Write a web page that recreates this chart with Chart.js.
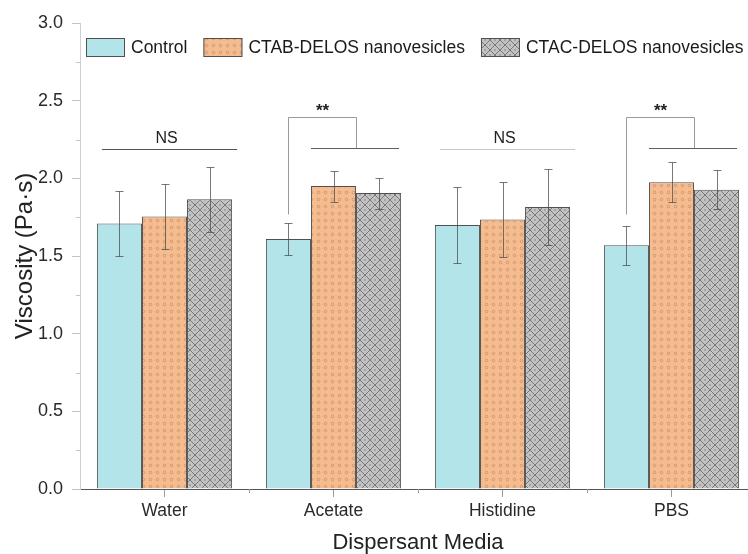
<!DOCTYPE html>
<html>
<head>
<meta charset="utf-8">
<script src="https://cdn.jsdelivr.net/npm/chart.js@4.4.1/dist/chart.umd.min.js"></script>
<style>
  html, body { margin: 0; padding: 0; background: #fff; overflow: hidden; width: 748px; height: 554px; }
  #wrap { width: 760px; height: 554px; }
</style>
</head>
<body>
<div id="wrap"><canvas id="c" width="760" height="554"></canvas></div>
<script>
// Viscosity of the formulations in each dispersant medium (mean and SD, Pa·s)
const categories = ['Water', 'Acetate', 'Histidine', 'PBS'];
const seriesNames = ['Control', 'CTAB-DELOS nanovesicles', 'CTAC-DELOS nanovesicles'];
const controlMean = [1.71, 1.61, 1.70, 1.57];
const controlSD   = [0.21, 0.105, 0.245, 0.125];
const ctabMean    = [1.755, 1.95, 1.735, 1.975];
const ctabSD      = [0.21, 0.10, 0.243, 0.127];
const ctacMean    = [1.865, 1.905, 1.815, 1.927];
const ctacSD      = [0.21, 0.10, 0.245, 0.126];
const yTicks      = [0, 0.5, 1.0, 1.5, 2.0, 2.5, 3.0];
const significance = ['NS', '**', 'NS', '**'];

const FONT = '"Liberation Sans", Arial, sans-serif';

// Fill patterns
function dotPattern() {
  const t = document.createElement('canvas');
  t.width = 7; t.height = 7;
  const g = t.getContext('2d');
  g.fillStyle = '#F5BC90';
  g.fillRect(0, 0, 7, 7);
  g.strokeStyle = 'rgba(190,130,90,0.75)';
  g.lineWidth = 0.8;
  g.beginPath(); g.arc(3.5, 3.5, 1.3, 0, Math.PI * 2); g.stroke();
  return g.createPattern(t, 'repeat');
}
function crossPattern() {
  const s = 10;
  const t = document.createElement('canvas');
  t.width = s; t.height = s;
  const g = t.getContext('2d');
  g.fillStyle = '#C2C2C2';
  g.fillRect(0, 0, s, s);
  g.strokeStyle = 'rgba(85,85,85,0.85)';
  g.lineWidth = 0.8;
  g.beginPath();
  g.moveTo(0, 0); g.lineTo(s, s);
  g.moveTo(s, 0); g.lineTo(0, s);
  g.stroke();
  g.fillStyle = 'rgba(110,110,110,0.8)';
  [[s / 2, 0], [s / 2, s], [0, s / 2], [s, s / 2]].forEach(([x, y]) => {
    g.beginPath(); g.arc(x, y, 0.8, 0, Math.PI * 2); g.fill();
  });
  return g.createPattern(t, 'repeat');
}

const fills = ['#B3E4E9', dotPattern(), crossPattern()];

const datasets = [
  { label: seriesNames[0], data: controlMean, sd: controlSD },
  { label: seriesNames[1], data: ctabMean, sd: ctabSD },
  { label: seriesNames[2], data: ctacMean, sd: ctacSD }
].map((d, i) => Object.assign(d, {
  backgroundColor: fills[i],
  borderColor: '#505050',
  borderWidth: 1,
  borderSkipped: 'bottom',
  barPercentage: 1.0,
  categoryPercentage: 0.8
}));

// Error bars (mean ± SD)
const errorBars = {
  id: 'errorBars',
  afterDatasetsDraw(chart) {
    const { ctx } = chart;
    const y = chart.scales.y;
    ctx.save();
    ctx.strokeStyle = 'rgba(75,75,75,0.75)';
    ctx.lineWidth = 1;
    chart.data.datasets.forEach((ds, i) => {
      chart.getDatasetMeta(i).data.forEach((bar, j) => {
        const x = Math.round(bar.x) + 0.5;
        const y1 = Math.round(y.getPixelForValue(ds.data[j] + ds.sd[j])) + 0.5;
        const y2 = Math.round(y.getPixelForValue(ds.data[j] - ds.sd[j])) + 0.5;
        ctx.beginPath();
        ctx.moveTo(x, y1); ctx.lineTo(x, y2);
        ctx.moveTo(x - 4, y1); ctx.lineTo(x + 4, y1);
        ctx.moveTo(x - 4, y2); ctx.lineTo(x + 4, y2);
        ctx.stroke();
      });
    });
    ctx.restore();
  }
};

// Significance markers above each group
const brackets = {
  id: 'brackets',
  afterDatasetsDraw(chart) {
    const { ctx } = chart;
    const y = chart.scales.y;
    const m0 = chart.getDatasetMeta(0).data;
    const m1 = chart.getDatasetMeta(1).data;
    const m2 = chart.getDatasetMeta(2).data;
    const px = v => Math.round(y.getPixelForValue(v)) + 0.5;
    ctx.save();
    ctx.lineWidth = 1;
    ctx.textAlign = 'center';
    ctx.textBaseline = 'middle';
    ctx.fillStyle = '#222';
    significance.forEach((s, j) => {
      const left = m0[j].x - m0[j].width / 2;
      const right = m2[j].x + m2[j].width / 2;
      if (s === 'NS') {
        ctx.strokeStyle = j === 0 ? '#555' : '#c8c8c8';
        ctx.beginPath();
        ctx.moveTo(left + 5, px(2.19)); ctx.lineTo(right + 5, px(2.19));
        ctx.stroke();
        ctx.font = '16px ' + FONT;
        ctx.fillText('NS', (left + right) / 2 + 2, y.getPixelForValue(2.255));
      } else {
        const xc = Math.round(m0[j].x) + 0.5;
        const xm = Math.round((m1[j].x + m2[j].x) / 2) + 0.5;
        const l2 = m1[j].x - m1[j].width / 2;
        ctx.strokeStyle = '#9a9a9a';
        ctx.beginPath();
        ctx.moveTo(xc, px(1.77)); ctx.lineTo(xc, px(2.395)); ctx.lineTo(xm, px(2.395));
        ctx.lineTo(xm, px(2.195));
        ctx.stroke();
        ctx.strokeStyle = '#606060';
        ctx.beginPath();
        ctx.moveTo(l2, px(2.195)); ctx.lineTo(right - 2, px(2.195));
        ctx.stroke();
        ctx.font = 'bold 17px ' + FONT;
        ctx.fillText('**', (xc + xm) / 2, y.getPixelForValue(2.43));
      }
    });
    ctx.restore();
  }
};

// Minor tick marks on both axes
const minorTicks = {
  id: 'minorTicks',
  afterDraw(chart) {
    const { ctx, chartArea } = chart;
    const { x, y } = chart.scales;
    ctx.save();
    ctx.lineWidth = 1;
    ctx.strokeStyle = '#c4c4c4';
    for (let v = 0.25; v < 3; v += 0.5) {
      const py = Math.round(y.getPixelForValue(v)) + 0.5;
      ctx.beginPath(); ctx.moveTo(chartArea.left - 4, py); ctx.lineTo(chartArea.left, py); ctx.stroke();
    }
    ctx.strokeStyle = '#a0a0a0';
    for (let j = 0; j < categories.length - 1; j++) {
      const p = Math.round((x.getPixelForValue(j) + x.getPixelForValue(j + 1)) / 2) + 0.5;
      ctx.beginPath(); ctx.moveTo(p, chartArea.bottom); ctx.lineTo(p, chartArea.bottom + 4); ctx.stroke();
    }
    ctx.restore();
  }
};

// Legend drawn inside the plot area along the top
const insideLegend = {
  id: 'insideLegend',
  afterDraw(chart) {
    const { ctx } = chart;
    ctx.save();
    ctx.font = '17.5px ' + FONT;
    ctx.textBaseline = 'middle';
    ctx.textAlign = 'left';
    let xPos = 86;
    const top = 38, bw = 39, bh = 19;
    chart.data.datasets.forEach(ds => {
      ctx.fillStyle = ds.backgroundColor;
      ctx.fillRect(xPos, top, bw, bh);
      ctx.strokeStyle = '#505050';
      ctx.lineWidth = 1;
      ctx.strokeRect(xPos + 0.5, top + 0.5, bw - 1, bh - 1);
      ctx.fillStyle = '#1a1a1a';
      ctx.fillText(ds.label, xPos + bw + 6, top + bh / 2 + 1);
      xPos += bw + 6 + ctx.measureText(ds.label).width + 16;
    });
    ctx.restore();
  }
};

new Chart(document.getElementById('c'), {
  type: 'bar',
  data: { labels: categories, datasets },
  plugins: [errorBars, brackets, minorTicks, insideLegend],
  options: {
    responsive: false,
    animation: false,
    layout: { padding: { top: 23, right: 4, left: 0, bottom: 0 } },
    plugins: { legend: { display: false }, tooltip: { enabled: false } },
    scales: {
      x: {
        offset: true,
        grid: { offset: false, drawOnChartArea: false, tickLength: 8, color: '#9a9a9a' },
        border: { display: true, color: '#555', width: 1 },
        ticks: { color: '#2a2a2a', font: { family: FONT, size: 17.5 }, padding: 4 },
        title: { display: true, text: 'Dispersant Media', color: '#222', font: { family: FONT, size: 22 }, padding: { top: 0, bottom: -2 } },
        afterFit(s) { s.height = 65; }
      },
      y: {
        min: 0, max: 3,
        afterBuildTicks(s) { s.ticks = yTicks.map(v => ({ value: v })); },
        grid: { drawOnChartArea: false, tickLength: 8, color: '#c4c4c4' },
        border: { display: true, color: '#cfcfcf', width: 1 },
        ticks: { color: '#2a2a2a', font: { family: FONT, size: 18 }, padding: 9, callback: v => v.toFixed(1) },
        title: { display: true, text: 'Viscosity (Pa·s)', color: '#222', font: { family: FONT, size: 24 }, padding: { top: 11, bottom: 0 } },
        afterFit(s) { s.width = 80; }
      }
    }
  }
});
</script>
</body>
</html>
